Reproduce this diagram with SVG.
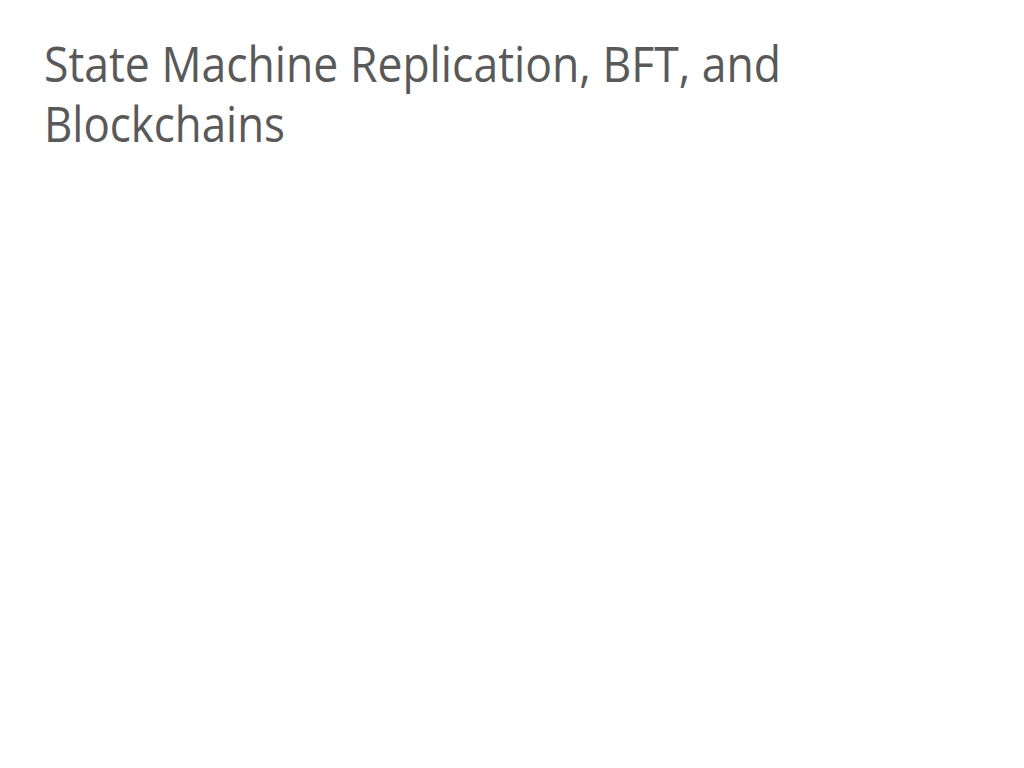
<svg xmlns="http://www.w3.org/2000/svg" width="1024" height="768" viewBox="0 0 1024 768">
<style>
.title{font-family:"Open Sans","Noto Sans","Liberation Sans",sans-serif;font-size:50px;fill:#595959;}
</style>
<rect width="1024" height="768" fill="#ffffff"/>
<g id="title">
<text class="title" x="44" y="82" textLength="737" lengthAdjust="spacingAndGlyphs">State Machine Replication, BFT, and</text>
<text class="title" x="44" y="142" textLength="241" lengthAdjust="spacingAndGlyphs">Blockchains</text>
</g>
</svg>
